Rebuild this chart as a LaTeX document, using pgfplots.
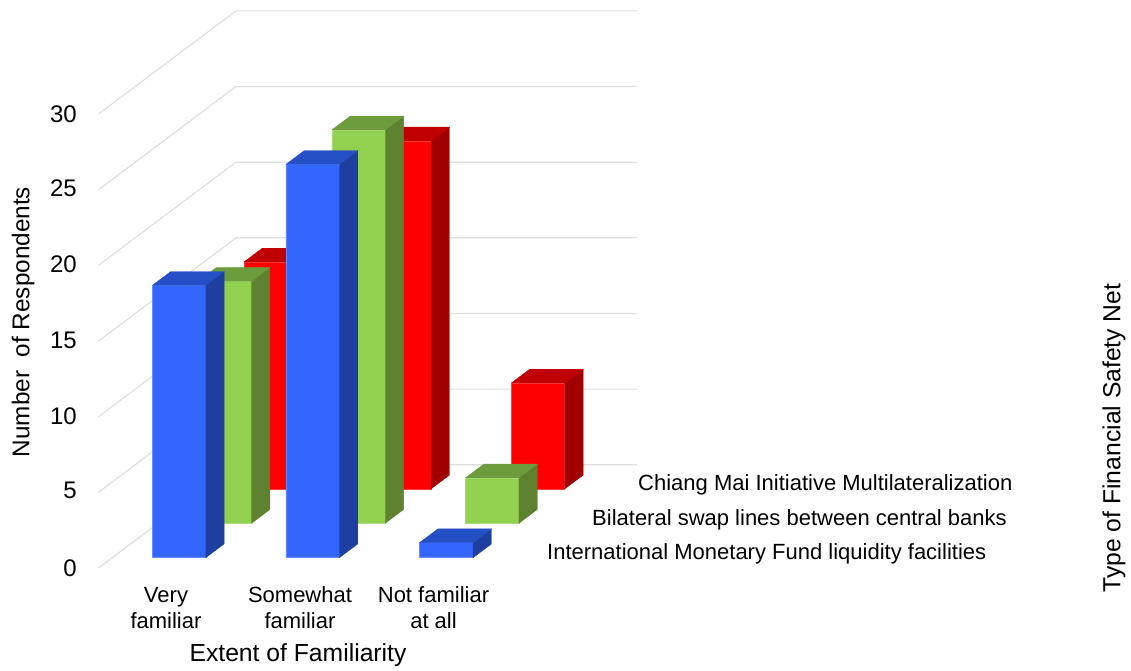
\documentclass[border=0pt]{standalone}
\usepackage{fontspec}
\setmainfont{Liberation Sans}
\usepackage{pgfplots}
\pgfplotsset{compat=1.18}
\definecolor{blueF}{HTML}{3366FF}
\definecolor{blueS}{HTML}{1F3FA0}
\definecolor{blueT}{HTML}{254FC5}
\definecolor{greenF}{HTML}{92D050}
\definecolor{greenS}{HTML}{5F8230}
\definecolor{greenT}{HTML}{6D9C3C}
\definecolor{redF}{HTML}{FF0000}
\definecolor{redS}{HTML}{A00000}
\definecolor{redT}{HTML}{C00000}
\definecolor{gridc}{HTML}{DEDEDE}
% #1,#2 x-range; #3,#4 depth range; #5 value; #6 colour stem
\newcommand{\threedbar}[6]{%
  \addplot3[fill=#6F,draw=#6F!75!white,line width=0.6pt] coordinates {(#1,#3,0) (#2,#3,0) (#2,#3,#5) (#1,#3,#5) (#1,#3,0)};
  \addplot3[fill=#6S,draw=#6S,line width=0.3pt] coordinates {(#2,#3,0) (#2,#4,0) (#2,#4,#5) (#2,#3,#5) (#2,#3,0)};
  \addplot3[fill=#6T,draw=#6T,line width=0.3pt] coordinates {(#1,#3,#5) (#2,#3,#5) (#2,#4,#5) (#1,#4,#5) (#1,#3,#5)};
}
\newcommand{\gridz}[1]{%
  \addplot3[gridc,line width=1.2pt] coordinates {(0,0,#1) (0,3,#1) (3,3,#1)};
}
\newcommand{\lab}{\fontsize{24.7}{28}\selectfont}
\newcommand{\tck}{\fontsize{24}{28}\selectfont}
\newcommand{\labs}{\fontsize{22}{26}\selectfont}
\begin{document}
\begin{tikzpicture}[x=1pt,y=1pt]
\useasboundingbox (0,0) rectangle (1131,671);
\begin{axis}[
  at={(98.5pt,103pt)},anchor=origin,
  x={(133.65pt,0pt)},y={(45.83pt,34.4pt)},z={(0pt,15.13pt)},
  xmin=0,xmax=3,ymin=0,ymax=3,zmin=0,zmax=30,
  hide axis,clip=false,no markers]
\gridz{0}\gridz{5}\gridz{10}\gridz{15}\gridz{20}\gridz{25}\gridz{30}
% Chiang Mai Initiative Multilateralization
\threedbar{0.3}{0.7}{2.3}{2.7}{15}{red}
\threedbar{1.3}{1.7}{2.3}{2.7}{23}{red}
\threedbar{2.3}{2.7}{2.3}{2.7}{7}{red}
% Bilateral swap lines between central banks
\threedbar{0.3}{0.7}{1.3}{1.7}{16}{green}
\threedbar{1.3}{1.7}{1.3}{1.7}{26}{green}
\threedbar{2.3}{2.7}{1.3}{1.7}{3}{green}
% International Monetary Fund liquidity facilities
\threedbar{0.3}{0.7}{0.3}{0.7}{18}{blue}
\threedbar{1.3}{1.7}{0.3}{0.7}{26}{blue}
\threedbar{2.3}{2.7}{0.3}{0.7}{1}{blue}
\end{axis}
\foreach \v/\yy in {0/568,5/490,10/416,15/340,20/264,25/188,30/114}
  \node[anchor=east,inner sep=0pt,font=\tck] at (77,671-\yy) {\v};
\node[rotate=90,inner sep=0pt,font=\fontsize{24.3}{28}\selectfont] at (23,671-322) {Number\ \ of Respondents};
\node[align=center,inner sep=0pt,font=\labs] at (166,671-608) {Very\\familiar};
\node[align=center,inner sep=0pt,font=\labs] at (300,671-608) {Somewhat\\familiar};
\node[align=center,inner sep=0pt,font=\labs] at (433.5,671-608) {Not familiar\\at all};
\node[inner sep=0pt,font=\lab] at (298,671-655) {Extent of Familiarity};
\node[anchor=west,inner sep=0pt,font=\labs] at (638,671-484.5) {Chiang Mai Initiative Multilateralization};
\node[anchor=west,inner sep=0pt,font=\labs] at (592,671-519.5) {Bilateral swap lines between central banks};
\node[anchor=west,inner sep=0pt,font=\labs] at (547,671-553.5) {International Monetary Fund liquidity facilities};
\node[rotate=90,inner sep=0pt,font=\lab] at (1114,671-438) {Type of Financial Safety Net};
\end{tikzpicture}
\end{document}
